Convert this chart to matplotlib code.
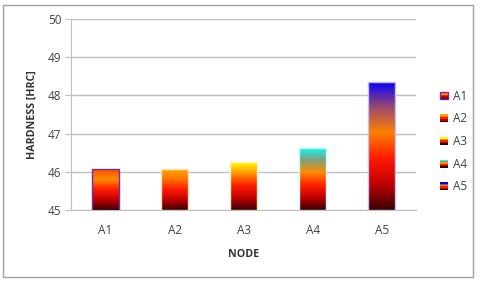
import matplotlib.pyplot as plt
import numpy as np
from matplotlib.colors import LinearSegmentedColormap
from matplotlib.patches import Rectangle
from matplotlib.legend_handler import HandlerBase

plt.rcParams['font.family'] = ['Open Sans', 'DejaVu Sans']

nodes = ['A1', 'A2', 'A3', 'A4', 'A5']
hardness = [46.07, 46.07, 46.25, 46.63, 48.35]

# gradient stops, bottom -> top
grad_colors = [
    ['#3a0000', '#c00000', '#ff1a00', '#ff8c00', '#ff4a00'],
    ['#3a0000', '#c00000', '#ff1a00', '#ff7000', '#ffa800'],
    ['#3a0000', '#c00000', '#ff1a00', '#ff8c00', '#ffff00'],
    ['#3a0000', '#c00000', '#ff2000', '#ff8c00', '#80a080', '#00ffff'],
    ['#3a0000', '#c00000', '#ff1a00', '#ff8000', '#9a4a70', '#0000ff'],
]
edge_colors = ['#7030a0', '#ffe0c0', '#fff0c0', '#c0ffff', '#c0c0ff']

fig = plt.figure(figsize=(4.8, 2.82), dpi=100)
ax = fig.add_axes([0.148, 0.255, 0.719, 0.678])

# outer frame
fig.patches.append(Rectangle((3 / 480, 5 / 282), 470 / 480, 272 / 282, transform=fig.transFigure,
                             fill=False, edgecolor='#a0a0a0', lw=1))

x = np.arange(len(nodes))
bars = ax.bar(x, np.array(hardness) - 45, bottom=45, width=0.4, color='none', zorder=3)

grad = np.linspace(0, 1, 256).reshape(-1, 1)
for i, b in enumerate(bars):
    cmap = LinearSegmentedColormap.from_list('g%d' % i, grad_colors[i])
    x0 = b.get_x()
    im = ax.imshow(grad, extent=[x0, x0 + b.get_width(), 45, hardness[i]], origin='lower',
                   aspect='auto', cmap=cmap, zorder=3)
    im.set_clip_path(b)
    b.set_edgecolor(edge_colors[i])
    b.set_linewidth(1.0)
    b.set_zorder(4)

ax.set_xlim(-0.5, 4.5)
ax.set_ylim(45, 50)
ax.set_yticks([45, 46, 47, 48, 49, 50])
ax.set_xticks(x)
ax.set_xticklabels(nodes)
ax.yaxis.grid(True, color='#bfbfbf', lw=1)
ax.set_axisbelow(True)
for s in ['top', 'right']:
    ax.spines[s].set_visible(False)
ax.spines['left'].set_color('#bfbfbf')
ax.spines['bottom'].set_color('#bfbfbf')
ax.tick_params(axis='y', length=4, color='#bfbfbf', labelsize=8.5, labelcolor='#404040', pad=3)
ax.tick_params(axis='x', length=0, labelsize=8.5, labelcolor='#404040', pad=10)
ax.set_ylabel('HARDNESS [HRC]', fontsize=7.7, fontweight='bold', color='#333333', labelpad=7)
ax.set_xlabel('NODE', fontsize=7.7, fontweight='bold', color='#333333', labelpad=9)


class GradHandler(HandlerBase):
    def __init__(self, idx):
        super().__init__()
        self.idx = idx

    def create_artists(self, legend, orig_handle, xdescent, ydescent, width, height, fontsize, trans):
        cols = grad_colors[self.idx]
        n = len(cols)
        arts = []
        for k, c in enumerate(cols):
            r = Rectangle((-xdescent, -ydescent + height * k / n), width, height / n,
                          facecolor=c, edgecolor='none', transform=trans)
            arts.append(r)
        if self.idx == 0:
            arts.append(Rectangle((-xdescent, -ydescent), width, height, fill=False,
                                  edgecolor=edge_colors[0], lw=1, transform=trans))
        return arts


handles = [Rectangle((0, 0), 1, 1) for _ in nodes]
fig.legend(handles, nodes, loc='center left', bbox_to_anchor=(0.895, 0.498), frameon=False,
           fontsize=8.5, handlelength=0.65, handleheight=0.65, handletextpad=0.4, labelspacing=0.82,
           handler_map={h: GradHandler(i) for i, h in enumerate(handles)}, labelcolor='#404040')

fig.savefig('out.png', dpi=100)
